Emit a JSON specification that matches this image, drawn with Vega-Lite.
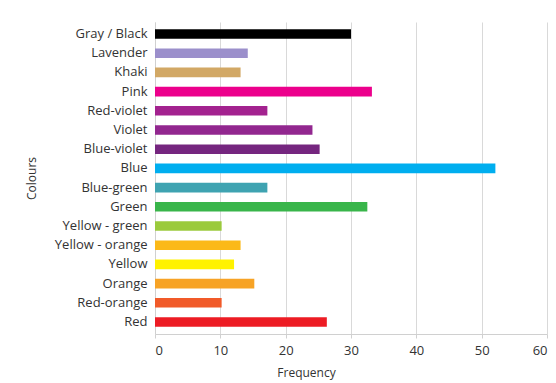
{
  "$schema": "https://vega.github.io/schema/vega-lite/v6.json",
  "width": 392,
  "height": 312,
  "autosize": {"type": "none"},
  "padding": {"left": 155, "top": 22, "right": 9, "bottom": 49},
  "background": "white",
  "config": {
    "view": {"stroke": null},
    "font": "Open Sans"
  },
  "data": {
    "values": [
      {"colour": "Gray / Black", "frequency": 30.0, "hex": "#000000"},
      {"colour": "Lavender", "frequency": 14.2, "hex": "#9b8fcb"},
      {"colour": "Khaki", "frequency": 13.1, "hex": "#d2a865"},
      {"colour": "Pink", "frequency": 33.2, "hex": "#ec008c"},
      {"colour": "Red-violet", "frequency": 17.2, "hex": "#a3228f"},
      {"colour": "Violet", "frequency": 24.1, "hex": "#92278f"},
      {"colour": "Blue-violet", "frequency": 25.2, "hex": "#75267f"},
      {"colour": "Blue", "frequency": 52.1, "hex": "#00aeef"},
      {"colour": "Blue-green", "frequency": 17.2, "hex": "#3fa3b1"},
      {"colour": "Green", "frequency": 32.5, "hex": "#39b54a"},
      {"colour": "Yellow - green", "frequency": 10.2, "hex": "#9bca3c"},
      {"colour": "Yellow - orange", "frequency": 13.1, "hex": "#fbb918"},
      {"colour": "Yellow", "frequency": 12.1, "hex": "#fff200"},
      {"colour": "Orange", "frequency": 15.2, "hex": "#f7a325"},
      {"colour": "Red-orange", "frequency": 10.2, "hex": "#f15a29"},
      {"colour": "Red", "frequency": 26.3, "hex": "#ed1c24"}
    ]
  },
  "mark": {"type": "bar"},
  "encoding": {
    "y": {
      "field": "colour",
      "type": "nominal",
      "sort": null,
      "scale": {"paddingInner": 0.5, "paddingOuter": 0.375},
      "axis": {
        "title": "Colours",
        "titleFontSize": 12,
        "titleFontWeight": "normal",
        "titleColor": "#333333",
        "titleX": -117,
        "labelFontSize": 13,
        "labelColor": "#333333",
        "labelPadding": 8,
        "ticks": false,
        "domainColor": "#d0d0d0",
        "grid": false
      }
    },
    "x": {
      "field": "frequency",
      "type": "quantitative",
      "scale": {"domain": [0, 60], "nice": false},
      "axis": {
        "title": "Frequency",
        "titleFontSize": 12,
        "titleFontWeight": "normal",
        "titleColor": "#333333",
        "titleX": 151,
        "titleAnchor": null,
        "titleAlign": "center",
        "titlePadding": 10,
        "values": [0, 10, 20, 30, 40, 50, 60],
        "labelFontSize": 13,
        "labelColor": "#333333",
        "labelPadding": 6,
        "ticks": true,
        "tickSize": 4,
        "tickColor": "#d0d0d0",
        "domainColor": "#d0d0d0",
        "gridColor": "#d9d9d9"
      }
    },
    "color": {"field": "hex", "type": "nominal", "scale": null, "legend": null}
  }
}
